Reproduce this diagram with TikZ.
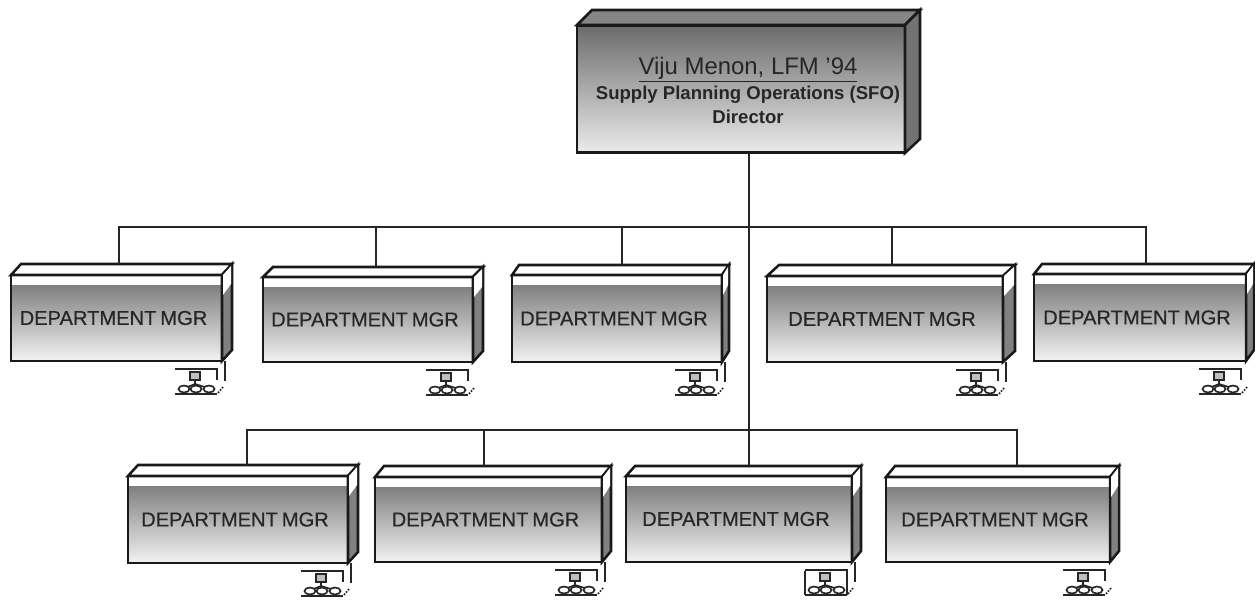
\documentclass[tikz,border=0pt]{standalone}
\usepackage{fontspec}
\setmainfont{Liberation Sans}
\newfontfamily\heavyfont[FakeBold=0.5]{Liberation Sans}

\tikzset{
  boxline/.style={line width=1.8pt, draw=black!90, line join=miter},
  wire/.style={line width=2.1pt, draw=black!85},
  deptbox/.style={boxline, inner sep=0pt, outer sep=0pt, align=center,
    font=\heavyfont\fontsize{14.3}{16}\selectfont, text=black!85},
  dirbox/.style={boxline, inner sep=0pt, outer sep=0pt,
    minimum width=8.2cm, minimum height=3.175cm},
  dirtext/.style={inner sep=0pt, align=center, text=black!85,
    font=\fontsize{13.2}{17.2}\selectfont\bfseries},
  iconline/.style={line width=1.2pt, draw=black!85},
  orgicon/.pic={
    \draw[iconline] (-47,33) -- (-5,33);
    \draw[iconline] (-47,8) -- (-5,8) -- (-5,19);
    \draw[iconline, densely dotted] (-4,32) -- (1,26);
    \draw[iconline, fill=black!25] (-32,11) rectangle (-22,19);
    \draw[iconline] (-27,19) -- (-27,24) (-37,27) -- (-27,23) -- (-14,27);
    \draw[iconline, fill=white] (-38,28) ellipse (5.5 and 3.5);
    \draw[iconline, fill=white] (-26,28) ellipse (5.5 and 3.5);
    \draw[iconline, fill=white] (-13,28) ellipse (5.5 and 3.5);
  }
}

\begin{document}
\begin{tikzpicture}[x=.025cm, y=-.025cm]
\useasboundingbox (0,0) rectangle (1255,600);

% director
\shade[top color=black!58, bottom color=black!8] (577,25) rectangle (905,153);
\filldraw[boxline, fill=black!48] (577,25) -- (592,10) -- (920,10) -- (905,25) -- cycle;
\filldraw[boxline, fill=black!55] (905,25) -- (920,10) -- (920,139) -- (905,153) -- cycle;
\node[dirbox] (dir) at (741,89) {};
\node[dirtext] (dirlabel) at (748,90.5) {{\fontsize{17}{17.2}\selectfont\mdseries\underline{Viju Menon, LFM '94}}\\[1pt]Supply Planning Operations (SFO)\\Director};

% department boxes: name / front left, top, right, bottom / back right, top / drop
\foreach \n/\xa/\ya/\xb/\yb/\xc/\yc/\xd in {
  A/11/275/222/361/232/264/119,
  B/263/277/473/362/483/267/376,
  C/512/275/722/362/729/265/622,
  D/767/276/1003/362/1015/265/892,
  E/1034/274/1246/361/1254/264/1146,
  F/128/476/348/563/358/465/247,
  G/375/477/602/562/611/466/484,
  H/626/476/852/562/861/466/749,
  I/886/477/1110/562/1119/466/1017} {
  \shade[top color=black!50, bottom color=black!5] (\xa,\ya+10) rectangle (\xb,\yb);
  \filldraw[boxline, fill=white] (\xa,\ya) -- (\xa+\xc-\xb,\yc) -- (\xc,\yc) -- (\xb,\ya) -- cycle;
  \filldraw[boxline, fill=black!50] (\xb,\ya) -- (\xc,\yc) -- (\xc,\yb-11) -- (\xb,\yb) -- cycle;
  \fill[white] (\xb+1,\ya) -- (\xc-1,\yc+2) -- (\xc-1,\yc+20) -- (\xb+1,\ya+20) -- cycle;
  \node[deptbox, minimum width={(\xb-\xa)*.025cm}, minimum height={(\yb-\ya)*.025cm}] (\n)
    at ({(\xa+\xb)/2},{(\ya+\yb)/2}) {DEPARTMENT\hspace{.1cm}MGR\hspace*{.15cm}};
  \coordinate (\n-top) at (\xd,\yc);
  \pic at (\n.south east) {orgicon};
}

% extra frame lines of the chart icons
\foreach \n in {A,C,D,F,G,H}
  \draw[iconline] ([xshift=.075cm]\n.south east) -- ++(0,20);
\draw[iconline] ([shift={(-47,9)}]H.south east) -- ++(0,24);
\draw[iconline] ([shift={(-5,19)}]H.south east) -- ++(0,14);

% connectors
\coordinate (bus1) at (749,227);
\coordinate (bus2) at (749,430);
\draw[wire] (dir.south -| H-top) -- (H-top);
\foreach \n in {A,B,C,D,E}
  \draw[wire] (bus1) -| (\n-top);
\foreach \n in {F,G,I}
  \draw[wire] (bus2) -| (\n-top);
\end{tikzpicture}
\end{document}
